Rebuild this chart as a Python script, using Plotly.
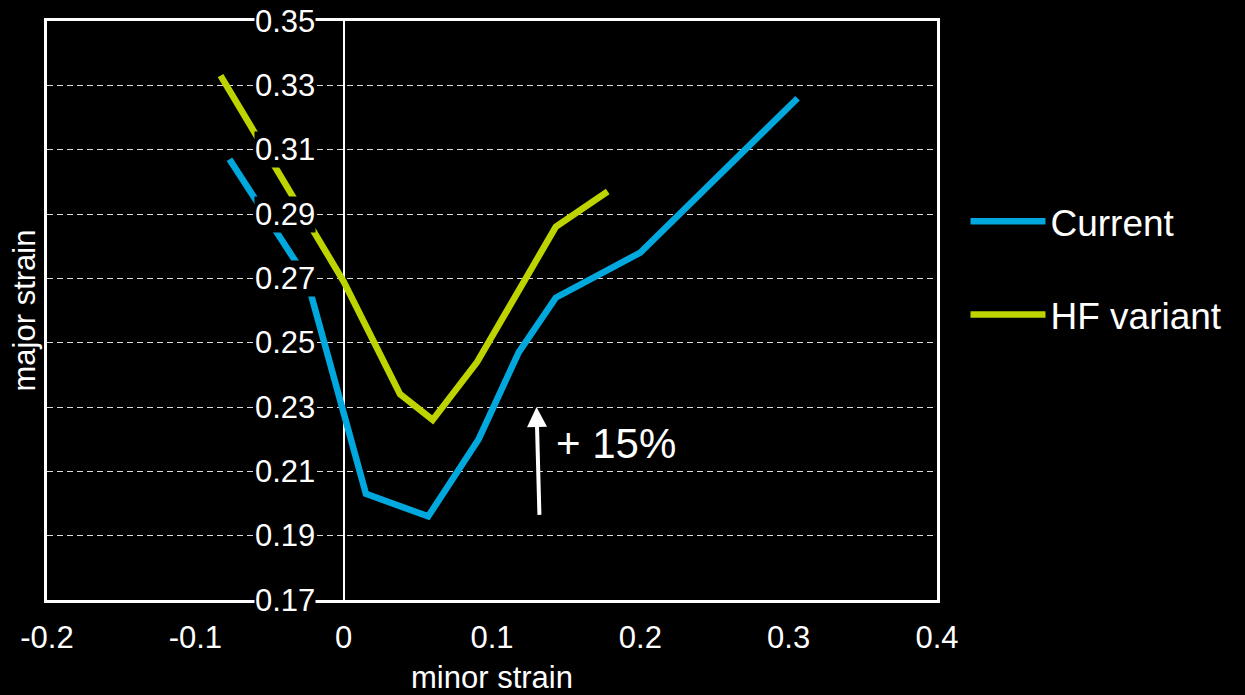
import plotly.graph_objects as go

# ---- data ----
current_x = [-0.077, -0.025, 0.015, 0.057, 0.091, 0.118, 0.143, 0.200, 0.306]
current_y = [0.307, 0.270, 0.203, 0.196, 0.220, 0.247, 0.264, 0.278, 0.326]

hf_x = [-0.083, 0.000, 0.038, 0.060, 0.090, 0.143, 0.178]
hf_y = [0.333, 0.269, 0.234, 0.226, 0.244, 0.286, 0.297]

x_ticks = [-0.2, -0.1, 0.0, 0.1, 0.2, 0.3, 0.4]
x_tick_labels = ["-0.2", "-0.1", "0", "0.1", "0.2", "0.3", "0.4"]
y_ticks = [0.17, 0.19, 0.21, 0.23, 0.25, 0.27, 0.29, 0.31, 0.33, 0.35]
y_tick_labels = ["0.17", "0.19", "0.21", "0.23", "0.25", "0.27", "0.29", "0.31", "0.33", "0.35"]

arrow_tail = (0.132, 0.196)
arrow_head = (0.130, 0.230)
increase_label = "+ 15%"
increase_pos = (0.1835, 0.2188)

series_names = ["Current", "HF variant"]
colors = ["#00A8DE", "#BDD400"]

FONT = "Liberation Sans, Arial, sans-serif"

fig = go.Figure()
fig.add_trace(go.Scatter(x=current_x, y=current_y, mode="lines", name=series_names[0],
                         line=dict(color=colors[0], width=6.5), legendgroup="a"))
fig.add_trace(go.Scatter(x=hf_x, y=hf_y, mode="lines", name=series_names[1],
                         line=dict(color=colors[1], width=6.5), legendgroup="b"))

annotations = []
for v, lbl in zip(y_ticks, y_tick_labels):
    annotations.append(dict(x=0, xref="x", y=v, yref="y", text=lbl, showarrow=False,
                            xanchor="right", yanchor="middle", xshift=-28,
                            bgcolor="black", borderpad=0,
                            font=dict(family=FONT, size=31, color="white")))
annotations.append(dict(x=arrow_head[0], y=arrow_head[1], xref="x", yref="y",
                        ax=arrow_tail[0], ay=arrow_tail[1], axref="x", ayref="y",
                        text="", showarrow=True, arrowhead=2, arrowsize=1,
                        arrowwidth=4, arrowcolor="white"))
annotations.append(dict(x=increase_pos[0], y=increase_pos[1], xref="x", yref="y",
                        text=increase_label, showarrow=False,
                        font=dict(family=FONT, size=42, color="white")))

fig.update_layout(
    width=1245, height=695,
    paper_bgcolor="black", plot_bgcolor="black",
    margin=dict(l=47, r=308, t=21, b=95, autoexpand=False),
    font=dict(family=FONT, color="white", size=31),
    showlegend=True,
    legend=dict(x=1.032, y=0.573, xanchor="left", yanchor="middle",
                font=dict(family=FONT, size=37, color="white"),
                bgcolor="rgba(0,0,0,0)", tracegroupgap=42, itemwidth=75),
    annotations=annotations,
)
fig.update_xaxes(range=[-0.2, 0.4], tickvals=x_ticks, ticktext=x_tick_labels,
                 showgrid=False, zeroline=True, zerolinecolor="white", zerolinewidth=2,
                 showline=True, linecolor="white", linewidth=2.5, mirror=True,
                 ticks="", ticklabelstandoff=8, automargin=False,
                 tickfont=dict(family=FONT, size=31, color="white"),
                 title=dict(text="minor strain", font=dict(family=FONT, size=31, color="white"),
                            standoff=19))
fig.update_yaxes(range=[0.17, 0.35], tickvals=y_ticks, showticklabels=False,
                 showgrid=True, gridcolor="#dcdcdc", gridwidth=1.3, griddash="6px,4px",
                 zeroline=False, automargin=False,
                 showline=True, linecolor="white", linewidth=2.5, mirror=True, ticks="",
                 title=dict(text="major strain", font=dict(family=FONT, size=31, color="white"),
                            standoff=0))

fig.write_html(
    "out.html",
    config={"displayModeBar": False},
    post_script="document.body.style.margin='0';document.body.style.background='black';"
                "document.documentElement.style.background='black';"
                "document.body.style.overflow='hidden';",
)
